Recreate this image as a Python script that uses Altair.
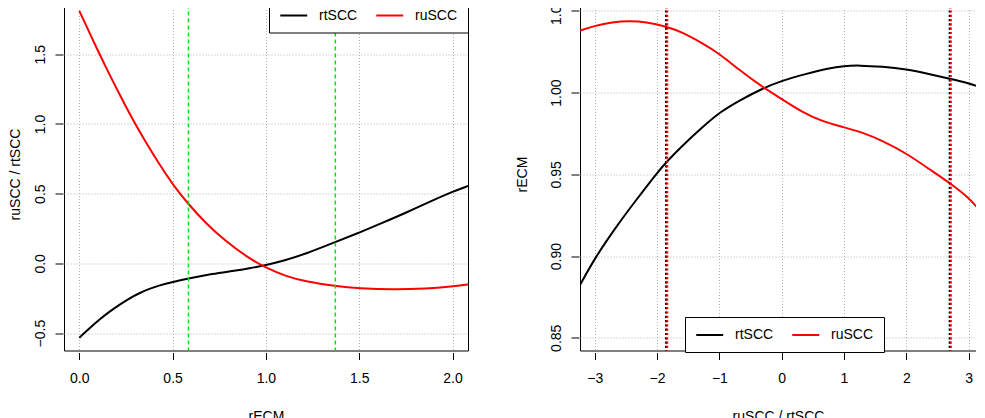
import altair as alt
import pandas as pd

# ---------------- Left panel data ----------------
L_rt_x = [0.0, 0.0536, 0.107, 0.161, 0.215, 0.268, 0.322, 0.376, 0.429, 0.5, 0.585, 0.715,
          0.822, 0.912, 1.0, 1.09, 1.216, 1.372, 1.5, 1.627, 1.752, 1.895, 2.0, 2.083]
L_rt_y = [-0.533, -0.467, -0.404, -0.347, -0.297, -0.251, -0.213, -0.182, -0.158, -0.134,
          -0.108, -0.074, -0.055, -0.036, -0.012, 0.017, 0.069, 0.153, 0.22, 0.292, 0.364,
          0.452, 0.514, 0.555]
L_ru_x = [0.0, 0.0715, 0.143, 0.215, 0.286, 0.358, 0.429, 0.5, 0.585, 0.68, 0.787, 0.894,
          1.0, 1.109, 1.216, 1.372, 1.5, 1.68, 1.859, 2.0, 2.083]
L_ru_y = [1.811, 1.605, 1.404, 1.213, 1.031, 0.864, 0.711, 0.567, 0.423, 0.285, 0.156, 0.05,
          -0.033, -0.093, -0.132, -0.163, -0.179, -0.189, -0.182, -0.165, -0.151]
L_vlines = [0.585, 1.372]
L_xticks = [0.0, 0.5, 1.0, 1.5, 2.0]
L_yticks = [-0.5, 0.0, 0.5, 1.0, 1.5]

# ---------------- Right panel data ----------------
R_rt_x = [-3.235, -2.995, -2.663, -2.342, -1.995, -1.845, -1.594, -1.273, -0.995, -0.684,
          -0.31, 0.0, 0.385, 0.759, 1.0, 1.24, 1.615, 2.0, 2.364, 2.706, 3.0, 3.23]
R_rt_y = [0.8824, 0.899, 0.9176, 0.934, 0.9512, 0.9578, 0.9676, 0.9788, 0.988, 0.9951,
          1.0025, 1.0073, 1.0114, 1.0149, 1.0163, 1.0167, 1.0159, 1.0143, 1.0114, 1.0084,
          1.0057, 1.0029]
R_ru_x = [-3.235, -2.995, -2.717, -2.449, -2.182, -1.845, -1.594, -1.273, -0.995, -0.684,
          -0.31, 0.0, 0.332, 0.652, 1.0, 1.294, 1.615, 2.0, 2.364, 2.706, 3.0, 3.23]
R_ru_y = [1.038, 1.041, 1.0431, 1.0439, 1.0433, 1.0404, 1.0369, 1.0302, 1.0237, 1.0139,
          1.0035, 0.9961, 0.988, 0.9824, 0.9788, 0.9757, 0.9706, 0.9629, 0.9533, 0.9445,
          0.9359, 0.9257]
R_vlines = [-1.846, 2.706]
R_xticks = [-3, -2, -1, 0, 1, 2, 3]
R_yticks = [0.85, 0.90, 0.95, 1.00, 1.05]

series_names = ["rtSCC", "ruSCC"]
series_colors = ["#000000", "#ff0000"]

FONT = "Liberation Sans"
LEG_SYMBOL = "M-1,0H3"


def make_df(x1, y1, x2, y2):
    a = pd.DataFrame({"x": x1, "y": y1, "series": series_names[0]})
    b = pd.DataFrame({"x": x2, "y": y2, "series": series_names[1]})
    return pd.concat([a, b], ignore_index=True)


left_df = make_df(L_rt_x, L_rt_y, L_ru_x, L_ru_y)
right_df = make_df(R_rt_x, R_rt_y, R_ru_x, R_ru_y)

xaxis_common = dict(offset=2, tickSize=7, labelPadding=12, titlePadding=24, labelFlush=False,
                    labelAngle=0)
yaxis_common = dict(offset=1, tickSize=8, labelPadding=11, labelAngle=270, labelAlign="center",
                    labelBaseline="alphabetic", labelFlush=False)
legend_common = dict(title=None, direction="horizontal", symbolType=LEG_SYMBOL,
                     symbolSize=182, symbolStrokeWidth=2, labelOffset=24, columnPadding=14,
                     padding=10, strokeColor="#000000", fillColor="#ffffff",
                     labelFont=FONT, labelFontSize=14, labelColor="#000000")

# ---------------- Left chart ----------------
Lx = alt.X("x:Q", title="rECM",
           scale=alt.Scale(domain=[-0.082, 2.083], nice=False, zero=False),
           axis=alt.Axis(values=L_xticks, format=".1f", **xaxis_common))
Ly = alt.Y("y:Q", title="ruSCC / rtSCC",
           scale=alt.Scale(domain=[-0.625, 1.907], nice=False, zero=False),
           axis=alt.Axis(values=L_yticks, format=".1f", titlePadding=11, **yaxis_common))

left_lines = alt.Chart(left_df).mark_line(strokeWidth=2, interpolate="basis", clip=True).encode(
    x=Lx, y=Ly,
    color=alt.Color("series:N",
                    scale=alt.Scale(domain=series_names, range=series_colors),
                    legend=alt.Legend(orient="top-right", offset=0, **legend_common)),
)
left_rules = alt.Chart(pd.DataFrame({"x": L_vlines})).mark_rule(
    color="#11dd11", strokeDash=[4, 3], strokeWidth=1.5).encode(x=alt.X("x:Q", title="rECM"))

left = alt.layer(left_lines, left_rules).properties(width=404, height=353)

# ---------------- Right chart ----------------
Rx = alt.X("x:Q", title="ruSCC / rtSCC",
           scale=alt.Scale(domain=[-3.237, 3.119], nice=False, zero=False),
           axis=alt.Axis(values=R_xticks, format="d", **xaxis_common))
Ry = alt.Y("y:Q", title="rECM",
           scale=alt.Scale(domain=[0.8422, 1.0582], nice=False, zero=False),
           axis=alt.Axis(values=R_yticks, format=".2f", titlePadding=20, **yaxis_common))

right_lines = alt.Chart(right_df).mark_line(strokeWidth=2, interpolate="basis", clip=True).encode(
    x=Rx, y=Ry,
    color=alt.Color("series:N",
                    scale=alt.Scale(domain=series_names, range=series_colors),
                    legend=alt.Legend(orient="none", legendX=105, legendY=319.5,
                                      **legend_common)),
)
vdf = pd.DataFrame({"x": R_vlines})
right_rules_k = alt.Chart(vdf).mark_rule(
    color="#000000", strokeDash=[2.2, 2.1], strokeWidth=2, xOffset=-0.6).encode(
    x=alt.X("x:Q", title="ruSCC / rtSCC"))
right_rules_r = alt.Chart(vdf).mark_rule(
    color="#ff0000", strokeDash=[2.2, 2.1], strokeWidth=2, xOffset=0.6).encode(
    x=alt.X("x:Q", title="ruSCC / rtSCC"))

right = alt.layer(right_lines, right_rules_k, right_rules_r).properties(width=396, height=353)

chart = alt.hconcat(left, right, spacing=112, bounds="flush").resolve_scale(
    color="independent").resolve_legend(color="independent").properties(
    padding={"top": -12.5, "bottom": 0, "left": -1, "right": -1},
    background="#ffffff"
).configure_view(
    stroke="#000000", strokeWidth=1
).configure_axis(
    labelFont=FONT, titleFont=FONT, labelFontSize=14, titleFontSize=14,
    titleFontWeight="normal", labelColor="#000000", titleColor="#000000",
    tickColor="#000000", tickWidth=1, domain=False,
    grid=True, gridColor="#b4b4b4", gridDash=[1, 2], gridWidth=1
).configure_legend(
    cornerRadius=0
)

chart.save("out.html", embed_options={"renderer": "svg", "actions": False})
